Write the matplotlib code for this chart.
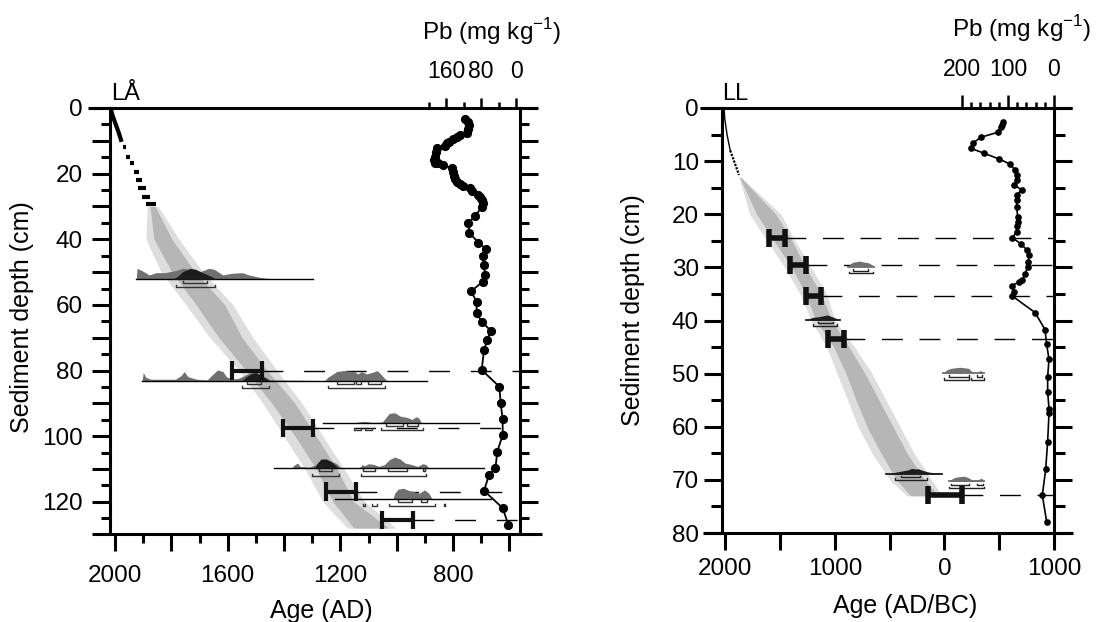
import numpy as np
import matplotlib
matplotlib.use('Agg')
import matplotlib.pyplot as plt
from matplotlib.ticker import FixedLocator, FuncFormatter

plt.rcParams['font.family'] = ['Liberation Sans', 'DejaVu Sans']
plt.rcParams['mathtext.fontset'] = 'custom'
plt.rcParams['mathtext.rm'] = 'Liberation Sans'

# ---------------- LÅ (left core) ----------------
la_pb_depth = [3.45, 4.16, 5.18, 6.5, 7.5, 8.2, 8.9, 9.5, 10.25, 10.76, 11.57, 12.3, 13.3, 14.8,
               15.85, 16.65, 16.85, 17.36, 18.37, 19.39, 20.7, 21.7, 22.4, 23.2, 23.8, 24.5, 25.2,
               26.5, 27.2, 28.0, 29.04, 30.3, 32.9, 35.1, 38.0, 41.0, 43.0, 45.1, 47.8, 50.9, 52.9,
               55.9, 59.0, 62.5, 65.1, 67.8, 70.7, 73.7, 79.8, 84.9, 90.0, 94.9, 99.6, 104.7, 109.8,
               111.8, 116.6, 121.9, 127.0]
la_pb = [116.6, 109, 106.7, 109, 111, 128, 135.6, 144.8, 152.4, 157, 162, 179.8, 182.9, 185,
         187.4, 185, 177.5, 166, 147, 143.2, 141.7, 139.4, 135.6, 128, 122, 105.1, 101.3,
         86, 82.3, 78.5, 76.2, 78.5, 93.7, 109, 106.7, 86, 68.6, 76.2, 73.1, 70.9, 76.2,
         102.9, 90, 90, 78.5, 58, 65.5, 73.1, 78.5, 38.1, 35, 30.5, 30.5, 42.7, 47.2,
         61.7, 73.1, 30.5, 17.5]

# 210Pb part of the model
la_top_depth = [0, 2, 4.7, 7, 9.7]
la_top_age = [2016, 2010, 1999, 1989, 1979]
la_pbdate_depth = [11.8, 14.9, 16.8, 19.4, 21.9, 24.4, 27.0, 29.2]
la_pbdate_age = [1966, 1954, 1941, 1925, 1914, 1904, 1891, 1873]
la_pbdate_err = [5, 6, 7, 9, 11, 13, 15, 18]

# age-depth envelope (95 % outer, 68 % inner)
la_band_depth = [30, 40, 50, 60, 70, 80, 90, 100, 110, 120, 128]
la_out_young = [1886, 1890, 1837, 1748, 1663, 1560, 1475, 1400, 1326, 1262, 1176]
la_out_old = [1847, 1773, 1688, 1581, 1510, 1425, 1336, 1262, 1187, 1113, 1002]
la_in_young = [1876, 1862, 1798, 1712, 1631, 1535, 1443, 1361, 1286, 1226, 1152]
la_in_old = [1858, 1798, 1716, 1610, 1549, 1460, 1361, 1286, 1212, 1152, 1027]

# modelled dates shown as bars
la_bar_depth = [80, 97.5, 116.9, 125.5]
la_bar_young = [1585, 1402, 1250, 1052]
la_bar_old = [1478, 1297, 1144, 942]

# calibrated 14C probability distributions
la_cal_depth = [52.2, 83.05, 95.9, 109.7, 119.1]
la_cal_span = [(1925, 1297), (1904, 891), (1260, 708), (1434, 689), (1219, 664)]
la_cal_age = [
    [1925, 1922, 1904, 1879, 1854, 1823, 1786, 1760, 1729, 1698, 1667, 1648, 1617, 1586, 1549, 1524, 1487, 1449, 1297],
    [1904, 1900, 1891, 1873, 1786, 1767, 1754, 1742, 1711, 1673, 1655, 1636, 1617, 1605, 1586, 1561, 1536, 1511, 1480, 1449,
     1256, 1244, 1213, 1188, 1150, 1138, 1125, 1107, 1088, 1069, 1057, 1038, 1032],
    [1150, 1138, 1113, 1088, 1051, 1038, 1026, 1007, 988, 963, 945, 932, 920, 914, 907],
    [1374, 1362, 1352, 1343, 1312, 1287, 1269, 1250, 1231, 1213, 1200, 1132, 1123, 1113, 1100, 1082, 1063, 1044, 1026,
     1007, 988, 970, 945, 926, 907, 895, 886],
    [1013, 1007, 995, 976, 957, 939, 920, 901, 886, 874],
]
la_cal_h = [
    [0, 3.35, 2.64, 1.32, 2.03, 2.03, 2.64, 3.35, 3.05, 2.34, 3.35, 3.05, 1.32, 1.83, 2.03, 1.32, 0.61, 0.2, 0],
    [0, 2.44, 1.02, 0.41, 0.41, 1.42, 2.74, 1.22, 0.41, 0.2, 1.73, 3.25, 2.74, 1.22, 0.41, 0.71, 1.73, 2.74, 1.73, 0.2,
     0, 1.02, 2.74, 3.05, 2.74, 2.03, 2.74, 2.03, 2.44, 3.05, 2.03, 0.2, 0],
    [0, 0.2, 0.41, 0.1, 0.2, 1.62, 2.84, 3.05, 2.03, 1.62, 1.02, 1.83, 1.32, 0.2, 0],
    [0, 1.02, 1.52, 0.51, 0.2, 1.02, 2.54, 2.74, 2.03, 1.32, 0.2, 0, 1.02, 0.71, 1.32, 1.12, 0.51, 1.02, 2.54,
     3.35, 2.74, 1.52, 1.02, 0.51, 1.32, 1.02, 0],
    [0, 1.73, 2.94, 3.25, 2.54, 2.23, 1.73, 2.74, 1.73, 0],
]
la_post_idx = [0, 1, 3]
la_post_age = [
    [1798, 1779, 1760, 1732, 1714, 1689, 1657, 1639],
    [1549, 1536, 1518, 1499, 1480, 1455, 1449],
    [1293, 1281, 1269, 1250, 1231, 1213, 1206],
]
la_post_h = [
    [0, 0.81, 2.34, 3.35, 3.05, 2.03, 0.81, 0],
    [0, 1.02, 2.03, 2.44, 1.42, 0.2, 0],
    [0, 1.52, 2.74, 2.74, 1.83, 0.51, 0],
]
# 1 and 2 sigma ranges (depth, young, old)
la_ranges = [
    (53.2, 1757, 1675), (54.4, 1783, 1645),
    (84.1, 1530, 1480), (85.4, 1549, 1452),
    (84.1, 1213, 1150), (84.1, 1144, 1125), (84.1, 1103, 1057), (85.4, 1244, 1041),
    (96.9, 1038, 976), (96.9, 963, 926),
    (98.1, 1150, 1125), (98.1, 1113, 1088), (98.1, 1057, 907),
    (110.7, 1277, 1231), (110.7, 1119, 1076), (110.7, 1032, 964), (110.7, 907, 901),
    (112.2, 1300, 1206), (112.2, 1125, 895),
    (119.9, 995, 945), (119.9, 914, 891),
    (121.4, 1119, 1113), (121.4, 1088, 1069), (121.4, 1026, 864), (121.4, 833, 827),
]

# ---------------- LL (right core) ----------------
ll_pb_depth = [2.57, 3.2, 3.64, 4.58, 5.5, 6.53, 7.6, 8.54, 9.6, 10.55, 11.7, 12.6, 13.6, 14.5, 15.4,
               16.4, 17.3, 18.6, 20.5, 21.4, 22.3, 23.3, 24.4, 25.6, 26.7, 27.7, 28.9, 29.9, 31.3,
               32.3, 32.7, 33.5, 34.6, 35.4, 38.5, 41.7, 44.5, 47.3, 50.6, 53.4, 56.6, 57.5, 62.8,
               68.0, 72.9, 77.9]
ll_pb = [111.6, 112.3, 115.2, 122.4, 158.7, 175.4, 180.4, 151.4, 119.6, 95.7, 84.8, 81.2, 81.2, 86.2,
         70.3, 81.2, 81.2, 81.2, 79, 79, 81.2, 81.2, 90.6, 71.7, 59.4, 54.3, 55.8, 57.2, 63,
         68.8, 76, 92, 86.2, 90.6, 41.3, 19.6, 15.9, 10.9, 13.8, 13.8, 10.9, 10.9, 13.8,
         18.1, 25.4, 15.9]

ll_top_depth = [0, 2, 5, 8, 10, 12.6]
ll_top_age = [2011, 2005, 1984, 1955, 1920, 1875]

ll_band_depth = [13, 20, 25, 30, 35, 40, 45, 50, 55, 60, 65, 70, 73]
ll_out_young = [1875, 1778, 1619, 1458, 1318, 1217, 1075, 980, 883, 789, 661, 500, 341]
ll_out_old = [1857, 1491, 1364, 1217, 1075, 998, 820, 661, 533, 405, 277, 117, 22]
ll_in_young = [1870, 1714, 1555, 1395, 1267, 1172, 1011, 898, 807, 706, 579, 436, 308]
ll_in_old = [1862, 1539, 1391, 1267, 1126, 1026, 871, 725, 597, 469, 341, 181, 53]

ll_bar_depth = [24.5, 29.6, 35.4, 43.4, 72.9]
ll_bar_young = [1605, 1413, 1266, 1064, 147]
ll_bar_old = [1459, 1266, 1128, 917, -156]

ll_cal_depth = [29.9, 39.9, 49.9, 68.9, 70.3]
ll_cal_dark = [False, True, False, True, False]
ll_cal_age = [
    [880, 860, 830, 800, 770, 740, 700, 660, 640],
    [1260, 1230, 1200, 1150, 1100, 1075, 1050, 1000, 950],
    [10, -20, -60, -100, -140, -180, -220, -250, -270, -300, -330, -360],
    [530, 480, 430, 380, 330, 300, 270, 240, 200, 150, 100, 50, 20],
    [-40, -70, -100, -140, -180, -220, -250, -280, -310, -340, -365],
]
ll_cal_h = [
    [0, 0.6, 0.9, 1.0, 1.1, 0.9, 0.8, 0.4, 0],
    [0, 0.3, 0.5, 0.6, 0.8, 0.95, 0.8, 0.4, 0],
    [0, 0.6, 0.9, 1.0, 1.1, 1.0, 0.9, 0.3, 0.1, 0.2, 0.5, 0],
    [0, 0.2, 0.4, 0.6, 0.8, 1.05, 0.95, 1.0, 0.7, 0.4, 0.25, 0.1, 0],
    [0, 0.5, 0.8, 0.9, 1.0, 0.7, 0.3, 0.2, 0.4, 0.6, 0],
]
ll_ranges = [
    (30.6, 830, 700), (31.1, 870, 650),
    (40.5, 1150, 1020), (41.0, 1200, 980),
    (50.6, -40, -220), (50.6, -300, -340), (51.2, 5, -220), (51.2, -240, -365),
    (69.5, 400, 220), (70.0, 450, 160),
    (71.0, -60, -220), (71.0, -300, -350), (71.6, -45, -365),
]

GRAY_OUT = '#dedede'
GRAY_IN = '#b6b6b6'
DIST_GRAY = '#707070'
DIST_DARK = '#1c1c1c'
SPW = 2.2

fig = plt.figure(figsize=(10.99, 6.22), dpi=100)
axL = fig.add_axes([110 / 1099, 1 - 534 / 622, 410 / 1099, 426 / 622])
axR = fig.add_axes([722 / 1099, 1 - 533 / 622, 332 / 1099, 425 / 622])


def frame(ax, ext_top, ext_bot):
    for s in ['top', 'bottom']:
        ax.spines[s].set_visible(False)
    for s in ['left', 'right']:
        ax.spines[s].set_linewidth(SPW)
    ax.plot(ext_top, [1, 1], color='k', lw=SPW, transform=ax.transAxes, clip_on=False,
            solid_capstyle='butt', zorder=10)
    ax.plot(ext_bot, [0, 0], color='k', lw=SPW, transform=ax.transAxes, clip_on=False,
            solid_capstyle='butt', zorder=10)
    ax.yaxis.set_ticks_position('both')
    ax.xaxis.set_ticks_position('bottom')


def hbar(ax, d, a0, a1, cap, lw):
    ax.plot([a0, a1], [d, d], color='#111111', lw=lw, solid_capstyle='butt', zorder=6)
    for a in (a0, a1):
        ax.plot([a, a], [d - cap, d + cap], color='#111111', lw=lw, solid_capstyle='butt', zorder=6)


def bracket(ax, d, a0, a1, h, lw=1.0, color='#333333'):
    ax.plot([a0, a0, a1, a1], [d - h, d, d, d - h], color=color, lw=lw, zorder=5)


# ================= left panel =================
ax = axL
ax.set_xlim(2018, 562)
ax.set_ylim(129.8, 0)
frame(ax, [-0.054, 1.042], [-0.044, 1.054])

ax.fill_betweenx(la_band_depth, la_out_young, la_out_old, color=GRAY_OUT, lw=0, zorder=1)
ax.fill_betweenx(la_band_depth, la_in_young, la_in_old, color=GRAY_IN, lw=0, zorder=1.5)
ax.plot(la_top_age, la_top_depth, color='k', lw=3, zorder=3)
for d, a, e in zip(la_pbdate_depth, la_pbdate_age, la_pbdate_err):
    ax.plot([a + e, a - e], [d, d], color='k', lw=3, solid_capstyle='butt', zorder=3)

for d, a0, a1 in zip(la_bar_depth, la_bar_young, la_bar_old):
    ax.plot([a1, 562], [d, d], color='k', lw=1.0, ls=(0, (15, 15)), zorder=2)
    hbar(ax, d, a0, a1, 2.8, 3.0)

for i, d in enumerate(la_cal_depth):
    base = np.full(len(la_cal_age[i]), d)
    ax.fill_between(la_cal_age[i], base, base - np.array(la_cal_h[i]), color=DIST_GRAY, lw=0, zorder=3)
    ax.plot(la_cal_span[i], [d, d], color='k', lw=1.0, zorder=3.5)
for k, i in enumerate(la_post_idx):
    d = la_cal_depth[i]
    base = np.full(len(la_post_age[k]), d)
    ax.fill_between(la_post_age[k], base, base - np.array(la_post_h[k]), color=DIST_DARK, lw=0, zorder=4)
for d, a0, a1 in la_ranges:
    bracket(ax, d, a0, a1, 0.6)

ax.xaxis.set_major_locator(FixedLocator(list(range(2000, 500, -200))))
ax.xaxis.set_minor_locator(FixedLocator(list(range(1900, 500, -200))))
ax.xaxis.set_major_formatter(FuncFormatter(lambda v, p: f'{v:.0f}' if v % 400 == 0 else ''))
ax.yaxis.set_major_locator(FixedLocator(list(range(0, 130, 10))))
ax.yaxis.set_minor_locator(FixedLocator(list(range(5, 130, 10))))
ax.yaxis.set_major_formatter(FuncFormatter(lambda v, p: f'{v:.0f}' if v % 20 == 0 else ''))
ax.tick_params(axis='x', which='major', direction='out', length=12, width=SPW, labelsize=17.5, pad=10)
ax.tick_params(axis='x', which='minor', direction='out', length=6.5, width=SPW)
ax.tick_params(axis='y', which='major', direction='out', length=13, width=SPW, labelsize=17.5, pad=6.5)
ax.tick_params(axis='y', which='minor', direction='out', length=6.5, width=SPW)

axL2 = ax.twiny()
axL2.set_xlim(928, -9.1)
for s in axL2.spines.values():
    s.set_visible(False)
axL2.plot(la_pb, la_pb_depth, color='k', lw=1.3, marker='o', ms=5.6, zorder=7)
axL2.xaxis.set_major_locator(FixedLocator([0, 80, 160]))
axL2.xaxis.set_minor_locator(FixedLocator([40, 120, 200]))
axL2.tick_params(axis='x', which='major', direction='out', length=7.2, width=1.8, labelsize=16.5, pad=11)
axL2.tick_params(axis='x', which='minor', direction='out', length=4.3, width=1.8)

# ================= right panel =================
ax = axR
ax.set_xlim(2030, -1000)
ax.set_ylim(80, 0)
frame(ax, [-0.066, 1.054], [-0.057, 1.057])

ax.fill_betweenx(ll_band_depth, ll_out_young, ll_out_old, color=GRAY_OUT, lw=0, zorder=1)
ax.fill_betweenx(ll_band_depth, ll_in_young, ll_in_old, color=GRAY_IN, lw=0, zorder=1.5)
ax.plot(ll_top_age[:4], ll_top_depth[:4], color='k', lw=1.0, zorder=3)
ax.plot(ll_top_age[3:], ll_top_depth[3:], color='k', lw=1.6, ls=(0, (1, 0.6)), zorder=3)

for d, a0, a1 in zip(ll_bar_depth, ll_bar_young, ll_bar_old):
    ax.plot([a1, -1000], [d, d], color='k', lw=1.0, ls=(0, (15, 12)), zorder=2)
    hbar(ax, d, a0, a1, 1.7, 4.0)

for i, d in enumerate(ll_cal_depth):
    base = np.full(len(ll_cal_age[i]), d)
    col = DIST_DARK if ll_cal_dark[i] else DIST_GRAY
    ax.fill_between(ll_cal_age[i], base, base - np.array(ll_cal_h[i]), color=col, lw=0, zorder=3)
    ax.plot([ll_cal_age[i][0], ll_cal_age[i][-1]], [d, d], color=col, lw=1.3, zorder=3)
for d, a0, a1 in ll_ranges:
    bracket(ax, d, a0, a1, 0.3, lw=1.0, color='#222222')

ax.xaxis.set_major_locator(FixedLocator([2000, 1500, 1000, 500, 0, -500, -1000]))
ax.xaxis.set_major_formatter(FuncFormatter(lambda v, p: f'{abs(v):.0f}' if v % 1000 == 0 else ''))
ax.yaxis.set_major_locator(FixedLocator(list(range(0, 81, 10))))
ax.yaxis.set_minor_locator(FixedLocator(list(range(5, 80, 10))))
ax.tick_params(axis='x', which='major', direction='out', length=12, width=SPW, labelsize=17.5, pad=6)
ax.tick_params(axis='y', which='major', direction='out', length=13, width=SPW, labelsize=17.5, pad=3.6)
ax.tick_params(axis='y', which='minor', direction='out', length=8, width=SPW)

axR2 = ax.twiny()
axR2.set_xlim(722, 0)
for s in axR2.spines.values():
    s.set_visible(False)
axR2.plot(ll_pb, ll_pb_depth, color='k', lw=1.2, marker='o', ms=3.8, zorder=7)
axR2.xaxis.set_major_locator(FixedLocator([0, 100, 200]))
axR2.xaxis.set_minor_locator(FixedLocator(list(range(20, 200, 20))))
axR2.tick_params(axis='x', which='major', direction='out', length=9.4, width=1.8, labelsize=16.5, pad=10)
axR2.tick_params(axis='x', which='minor', direction='out', length=4.3, width=1.8)

# ================= texts =================
fig.text(111 / 1099, 1 - 100 / 622, 'LÅ', fontsize=17, ha='left', va='baseline')
fig.text(722 / 1099, 1 - 100 / 622, 'LL', fontsize=17, ha='left', va='baseline')
fig.text(422 / 1099, 1 - 40 / 622, 'Pb (mg kg$^{-1}$)', fontsize=17.5, ha='left', va='baseline')
fig.text(952 / 1099, 1 - 37 / 622, 'Pb (mg kg$^{-1}$)', fontsize=17.5, ha='left', va='baseline')
fig.text(321 / 1099, 1 - 618 / 622, 'Age (AD)', fontsize=18, ha='center', va='baseline')
fig.text(905 / 1099, 1 - 613 / 622, 'Age (AD/BC)', fontsize=18, ha='center', va='baseline')
fig.text(22 / 1099, 1 - 317 / 622, 'Sediment depth (cm)', fontsize=18, rotation=90, ha='center', va='center')
fig.text(633 / 1099, 1 - 310 / 622, 'Sediment depth (cm)', fontsize=18, rotation=90, ha='center', va='center')

fig.savefig('out.png', dpi=100)
